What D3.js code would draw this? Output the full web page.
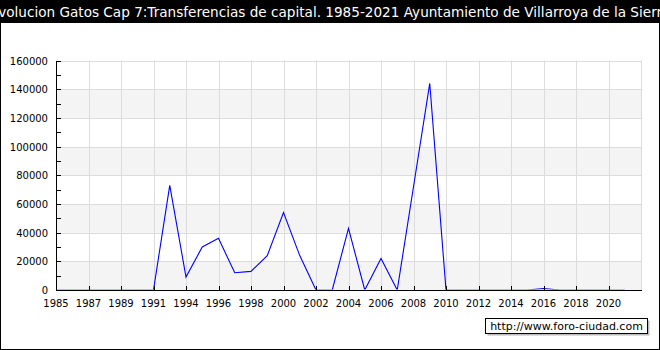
<!DOCTYPE html>
<html>
<head>
<meta charset="utf-8">
<script src="https://cdn.jsdelivr.net/npm/d3@7"></script>
<style>
  html, body { margin: 0; padding: 0; background: #fff; }
  svg { display: block; }
  text { font-family: "DejaVu Sans", sans-serif; }
</style>
</head>
<body>
<svg id="chart" width="660" height="350"></svg>
<script>
const titleText = "Evolucion Gatos Cap 7:Transferencias de capital. 1985-2021 Ayuntamiento de Villarroya de la Sierra";
const categories = ["1985","1986","1987","1988","1989","1990","1991","1993","1994","1995","1996","1997","1998","1999","2000","2001","2002","2003","2004","2005","2006","2007","2008","2009","2010","2011","2012","2013","2014","2015","2016","2017","2018","2019","2020","2021"];
const values = [0,0,0,0,0,0,0,73000,9000,30000,36000,12000,13000,24000,54000,24000,0,0,43000,0,22000,0,72000,144000,0,0,0,0,0,0,1000,0,0,0,0,0];
const yTicks = [0,20000,40000,60000,80000,100000,120000,140000,160000];
const yMinorTicks = [10000,30000,50000,70000,90000,110000,130000,150000];
const watermark = "http://www.foro-ciudad.com";

const W = 660, H = 350;
const plot = {left: 56, right: 641, top: 60.5, bottom: 290};
const svg = d3.select("#chart");

// outer frame and title bar
svg.append("rect").attr("x", 0.5).attr("y", 0.5).attr("width", W - 1).attr("height", H - 1)
  .attr("fill", "#fff").attr("stroke", "#000");
svg.append("rect").attr("x", 0).attr("y", 0).attr("width", W).attr("height", 23).attr("fill", "#000");
svg.append("text").attr("x", W / 2).attr("y", 16.5).attr("text-anchor", "middle")
  .attr("fill", "#fff").attr("font-size", "13.6px").text(titleText);

const x = d3.scaleLinear().domain([0, categories.length]).range([plot.left, plot.right]);
const y = d3.scaleLinear().domain([0, 160000]).range([plot.bottom, plot.top]);

// clip for the data line (the axis hides zero values)
svg.append("defs").append("clipPath").attr("id", "plotclip").append("rect")
  .attr("x", plot.left).attr("y", 0).attr("width", plot.right - plot.left)
  .attr("height", plot.bottom - 0.45);

// alternating bands
const g = svg.append("g");
for (let i = 0; i < yTicks.length - 1; i++) {
  g.append("rect")
    .attr("x", plot.left).attr("width", plot.right - plot.left)
    .attr("y", y(yTicks[i + 1])).attr("height", y(yTicks[i]) - y(yTicks[i + 1]))
    .attr("fill", i % 2 === 0 ? "#f4f4f4" : "#ffffff");
}
// horizontal gridlines
g.selectAll("line.hg").data(yTicks.slice(1)).enter().append("line")
  .attr("x1", plot.left).attr("x2", plot.right)
  .attr("y1", d => Math.round(y(d)) + 0.5).attr("y2", d => Math.round(y(d)) + 0.5)
  .attr("stroke", "#dcdcdc");
// vertical gridlines at labeled ticks
const labelIdx = d3.range(0, categories.length, 2);
g.selectAll("line.vg").data(labelIdx.slice(1).concat([categories.length])).enter().append("line")
  .attr("x1", d => Math.round(x(d)) + 0.5).attr("x2", d => Math.round(x(d)) + 0.5)
  .attr("y1", plot.top).attr("y2", plot.bottom)
  .attr("stroke", "#dcdcdc");

// data line
const line = d3.line().x((d, i) => x(i)).y(d => y(d));
svg.append("path").datum(values).attr("d", line)
  .attr("clip-path", "url(#plotclip)")
  .attr("fill", "none").attr("stroke", "#0000ff").attr("stroke-width", 1.1);

// axes
const axisG = svg.append("g").attr("shape-rendering", "crispEdges");
axisG.append("line").attr("x1", plot.left).attr("x2", plot.right + 1)
  .attr("y1", plot.bottom + 0.5).attr("y2", plot.bottom + 0.5).attr("stroke", "#000");
axisG.append("line").attr("x1", plot.left + 0.5).attr("x2", plot.left + 0.5)
  .attr("y1", plot.top).attr("y2", plot.bottom + 1).attr("stroke", "#000");
// y ticks (inward)
axisG.selectAll("line.yt").data(yTicks.concat(yMinorTicks)).enter().append("line")
  .attr("x1", plot.left).attr("x2", plot.left + 5)
  .attr("y1", d => Math.round(y(d)) + 0.5).attr("y2", d => Math.round(y(d)) + 0.5)
  .attr("stroke", "#000");
// x ticks (inward)
axisG.selectAll("line.xt").data(labelIdx).enter().append("line")
  .attr("x1", d => Math.round(x(d)) + 0.5).attr("x2", d => Math.round(x(d)) + 0.5)
  .attr("y1", plot.bottom - 4).attr("y2", plot.bottom)
  .attr("stroke", "#000");

// y labels
svg.selectAll("text.yl").data(yTicks).enter().append("text")
  .attr("x", plot.left - 8).attr("y", d => y(d) + 4)
  .attr("text-anchor", "end").attr("font-size", "10px").attr("fill", "#000")
  .text(d => d);
// x labels
svg.selectAll("text.xl").data(labelIdx).enter().append("text")
  .attr("x", d => x(d)).attr("y", plot.bottom + 17)
  .attr("text-anchor", "middle").attr("font-size", "10px").attr("fill", "#000")
  .text(d => categories[d]);

// watermark
svg.append("rect").attr("x", 487.5).attr("y", 320.5).attr("width", 162).attr("height", 15)
  .attr("fill", "#bbb");
svg.append("rect").attr("x", 485.5).attr("y", 318.5).attr("width", 162).attr("height", 15)
  .attr("fill", "#fff").attr("stroke", "#000");
svg.append("text").attr("x", 566.5).attr("y", 330).attr("text-anchor", "middle")
  .attr("font-size", "11px").attr("fill", "#000").text(watermark);
</script>
</body>
</html>
